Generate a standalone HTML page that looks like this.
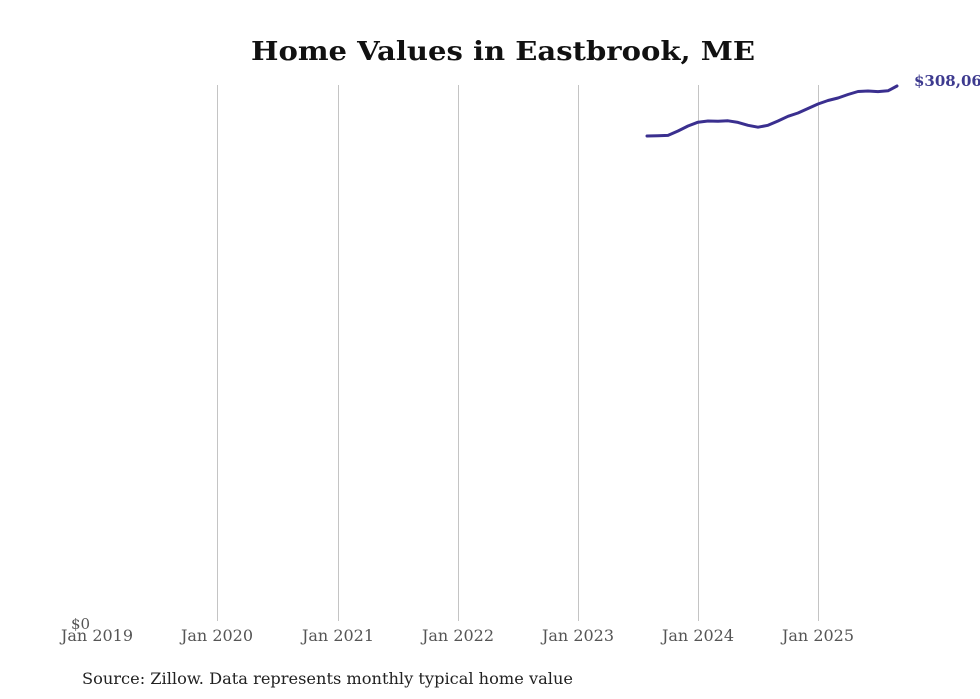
<!DOCTYPE html>
<html><head><meta charset="utf-8"><style>
html,body{margin:0;padding:0;background:#fff;}
svg{display:block;font-family:"DejaVu Serif","Liberation Serif",serif;}
</style></head><body>
<svg width="980" height="699" viewBox="0 0 980 699" xmlns="http://www.w3.org/2000/svg">
<rect width="980" height="699" fill="#fff"/>
<text x="503" y="60" text-anchor="middle" font-size="26" font-weight="bold" fill="#111" textLength="504" lengthAdjust="spacingAndGlyphs">Home Values in Eastbrook, ME</text>
<g stroke="#c4c4c4" stroke-width="1">
<line x1="217.5" y1="85" x2="217.5" y2="621"/>
<line x1="338.5" y1="85" x2="338.5" y2="621"/>
<line x1="458.5" y1="85" x2="458.5" y2="621"/>
<line x1="578.5" y1="85" x2="578.5" y2="621"/>
<line x1="698.5" y1="85" x2="698.5" y2="621"/>
<line x1="818.5" y1="85" x2="818.5" y2="621"/>
</g>
<g font-size="16" fill="#555" text-anchor="middle">
<text x="97" y="641">Jan 2019</text>
<text x="217" y="641">Jan 2020</text>
<text x="338" y="641">Jan 2021</text>
<text x="458" y="641">Jan 2022</text>
<text x="578" y="641">Jan 2023</text>
<text x="698" y="641">Jan 2024</text>
<text x="818" y="641">Jan 2025</text>
</g>
<text x="71" y="629" font-size="15" fill="#555">$0</text>
<polyline fill="none" stroke="#3a2f8f" stroke-width="3" stroke-linejoin="round" stroke-linecap="round"
points="647,136 658,135.7 668,135.4 678,131 688,126 698,122.2 708,121 718,121.3 728,120.8 738,122.4 748,125.3 758,127.2 768,125.3 778,121 788,116.3 798,113 808,108.5 818,104 828,100.5 838,98 848,94.5 858,91.5 868,91 878,91.6 888,90.8 897,86"/>
<text x="914" y="86" font-size="15" font-weight="bold" fill="#3d3a8f">$308,060</text>
<text x="82" y="684" font-size="16" fill="#222" textLength="491" lengthAdjust="spacingAndGlyphs">Source: Zillow. Data represents monthly typical home value</text>
</svg>
</body></html>
